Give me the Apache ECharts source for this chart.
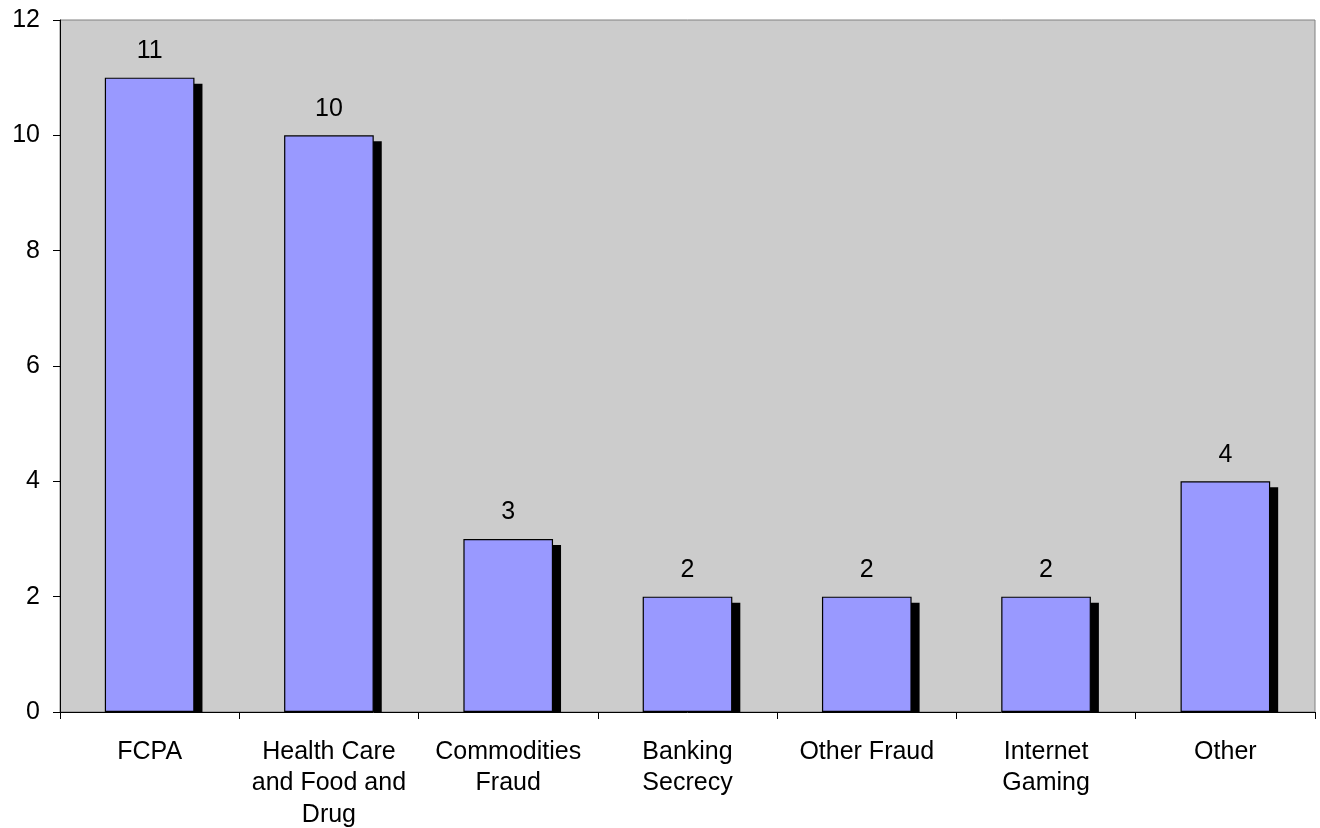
<!DOCTYPE html>
<html>
<head>
<meta charset="utf-8">
<script src="https://cdn.jsdelivr.net/npm/echarts@6/dist/echarts.min.js"></script>
<style>html,body{margin:0;padding:0;background:#fff}#c{width:1320px;height:828px}</style>
</head>
<body>
<div id="c"></div>
<script>
const categories = ['FCPA', 'Health Care\nand Food and\nDrug', 'Commodities\nFraud', 'Banking\nSecrecy', 'Other Fraud', 'Internet\nGaming', 'Other'];
const values = [11, 10, 3, 2, 2, 2, 4];
const yTicks = { min: 0, max: 12, interval: 2 };

const font = 'Arial, "Liberation Sans", sans-serif';
const chart = echarts.init(document.getElementById('c'));
chart.setOption({
  animation: false,
  grid: { left: 60, top: 20, right: 5, bottom: 116, containLabel: false, outerBoundsMode: 'none',
          show: true, backgroundColor: '#cccccc', borderColor: '#808080', borderWidth: 1 },
  xAxis: {
    type: 'category', data: categories,
    axisLine: { lineStyle: { color: '#000', width: 1 } },
    axisTick: { show: true, length: 7, lineStyle: { color: '#000' } },
    axisLabel: { color: '#000', fontSize: 25, fontFamily: font, margin: 24, lineHeight: 31.5, interval: 0 },
    splitLine: { show: false }
  },
  yAxis: {
    type: 'value', min: yTicks.min, max: yTicks.max, interval: yTicks.interval,
    axisLine: { show: true, lineStyle: { color: '#000', width: 1 } },
    axisTick: { show: true, length: 7, lineStyle: { color: '#000' } },
    axisLabel: { color: '#000', fontSize: 25, fontFamily: font, margin: 20 },
    splitLine: { show: false }
  },
  series: [
    {
      type: 'custom', z: 1,
      data: values.map((v, i) => [i, v]),
      renderItem: function (params, api) {
        const top = api.coord([api.value(0), api.value(1)]);
        const base = api.coord([api.value(0), 0]);
        const w = api.size([1, 0])[0] * 0.5;
        return {
          type: 'rect',
          shape: { x: top[0] - w / 2 + 8, y: top[1] + 6, width: w, height: base[1] - top[1] - 6 },
          style: { fill: '#000' }
        };
      }
    },
    {
      type: 'bar', z: 2, data: values, barWidth: '50%',
      itemStyle: { color: '#9999ff', borderColor: '#000', borderWidth: 1.2 },
      label: { show: true, position: 'top', distance: 14, color: '#000', fontSize: 25, fontFamily: font }
    }
  ]
});
</script>
</body>
</html>
